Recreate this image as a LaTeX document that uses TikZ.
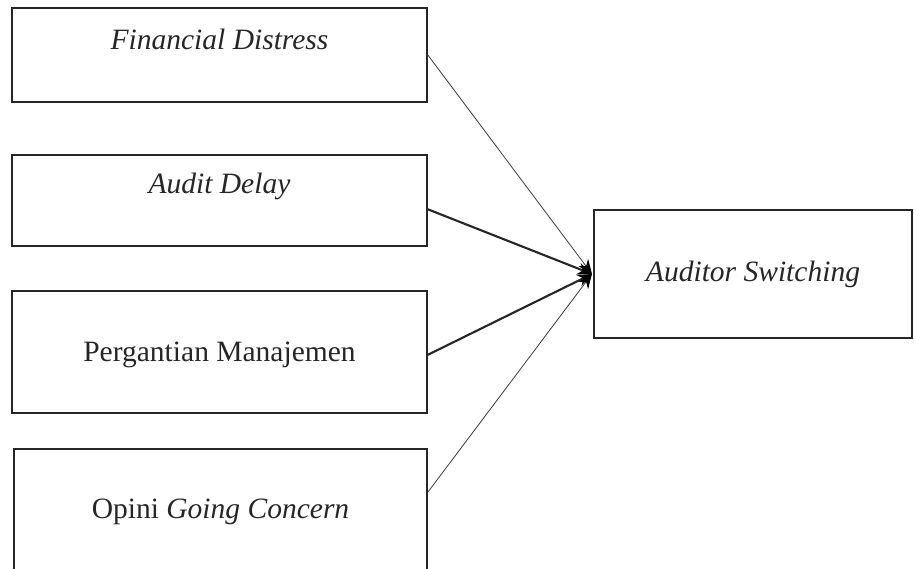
\documentclass[tikz,border=0pt]{standalone}
\usepackage{fontspec}
\setmainfont{Liberation Serif}
\usetikzlibrary{positioning,calc,arrows.meta}

\begin{document}
\begin{tikzpicture}[
  every node/.style={inner sep=2pt},
  varbox/.style={
    rectangle, draw=black!85, line width=1.2pt,
    minimum width=10.375cm,
    inner sep=0pt,
  },
  lbl/.style={font=\fontsize{21}{25}\selectfont, text=black!85},
  thinlink/.style={draw=black!75, line width=0.6pt, -{Stealth[length=0.36cm,width=0.3cm,color=black]}},
  boldlink/.style={draw=black!85, line width=1.5pt, -{Stealth[length=0.36cm,width=0.3cm,color=black]}},
]

% ----- canvas -----
\clip (0,0) rectangle (22.85,-14.225);

% ----- independent variables (left column) -----
\node[varbox, minimum height=2.35cm] (FD) at (5.4875,-1.375) {};
\node[varbox, minimum height=2.275cm] (AD) at (5.4875,-5.0125) {};
\node[varbox, minimum height=3.05cm] (PM) at (5.4875,-8.8) {};
\node[varbox, minimum width=10.325cm, minimum height=3.525cm] (GC) at (5.5125,-12.9875) {};

% ----- dependent variable (right) -----
\node[varbox, minimum width=7.95cm, minimum height=3.2cm] (AS) at (18.825,-6.85) {};

% ----- texts inside boxes -----
\node[lbl] (tFD) at ($(FD.north) + (0,-0.8)$) {\textit{Financial Distress}};
\node[lbl] (tAD) at ($(AD.north) + (0,-0.8)$) {\textit{Audit Delay}};
\node[lbl] (tPM) at ($(PM.center) + (0,-0.07)$) {Pergantian Manajemen};
\node[lbl] (tGC) at ($(GC.north) + (0,-1.6)$) {Opini \textit{Going Concern}};
\node[lbl] (tAS) at (AS.center) {\textit{Auditor Switching}};

% ----- arrows converging on Auditor Switching -----
\coordinate (tip) at ($(AS.west) + (-0.03,0)$);
\draw[thinlink] (FD.east) -- (tip);
\draw[boldlink] ($(AD.east) + (0,-0.22)$) -- (tip);
\draw[boldlink] ($(PM.east) + (0,-0.07)$) -- (tip);
\draw[thinlink] ($(GC.north east) + (0,-1.1)$) -- (tip);

\end{tikzpicture}
\end{document}
